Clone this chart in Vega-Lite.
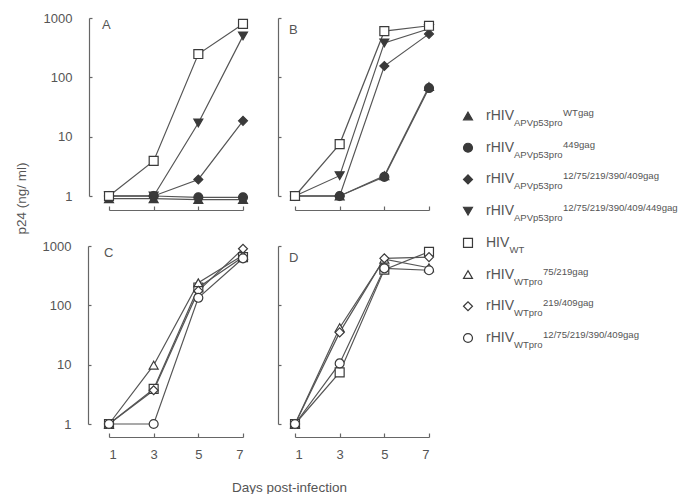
{
  "$schema": "https://vega.github.io/schema/vega-lite/v6.json",
  "background": "white",
  "padding": {"left": 14, "top": 12, "right": 0, "bottom": 0},
  "config": {
    "font": "Liberation Sans",
    "view": {"stroke": null},
    "axis": {"grid": false, "domain": true, "ticks": true, "domainColor": "#666", "tickColor": "#666", "domainOpacity": 1, "tickOpacity": 1, "labelColor": "#555", "labelFontSize": 13, "titleColor": "#555", "titleFontWeight": "normal", "titleFontSize": 13.5, "domainWidth": 1.2, "tickWidth": 1.2}
  },
  "datasets": {
    "curves": [
      {"panel": "A", "series": "apvwt", "day": 1, "p24": 0.9}, {"panel": "A", "series": "apvwt", "day": 3, "p24": 0.9}, {"panel": "A", "series": "apvwt", "day": 5, "p24": 0.87}, {"panel": "A", "series": "apvwt", "day": 7, "p24": 0.87},
      {"panel": "A", "series": "apv449", "day": 1, "p24": 1}, {"panel": "A", "series": "apv449", "day": 3, "p24": 1}, {"panel": "A", "series": "apv449", "day": 5, "p24": 0.95}, {"panel": "A", "series": "apv449", "day": 7, "p24": 0.95},
      {"panel": "A", "series": "apv5", "day": 1, "p24": 1}, {"panel": "A", "series": "apv5", "day": 3, "p24": 1}, {"panel": "A", "series": "apv5", "day": 5, "p24": 1.9}, {"panel": "A", "series": "apv5", "day": 7, "p24": 18.5},
      {"panel": "A", "series": "apv6", "day": 1, "p24": 1}, {"panel": "A", "series": "apv6", "day": 3, "p24": 1}, {"panel": "A", "series": "apv6", "day": 5, "p24": 17}, {"panel": "A", "series": "apv6", "day": 7, "p24": 500},
      {"panel": "A", "series": "wt", "day": 1, "p24": 1}, {"panel": "A", "series": "wt", "day": 3, "p24": 3.9}, {"panel": "A", "series": "wt", "day": 5, "p24": 247}, {"panel": "A", "series": "wt", "day": 7, "p24": 795},
      {"panel": "B", "series": "apvwt", "day": 1, "p24": 1}, {"panel": "B", "series": "apvwt", "day": 3, "p24": 1}, {"panel": "B", "series": "apvwt", "day": 5, "p24": 2.2}, {"panel": "B", "series": "apvwt", "day": 7, "p24": 70},
      {"panel": "B", "series": "apv449", "day": 1, "p24": 1}, {"panel": "B", "series": "apv449", "day": 3, "p24": 1}, {"panel": "B", "series": "apv449", "day": 5, "p24": 2.1}, {"panel": "B", "series": "apv449", "day": 7, "p24": 66},
      {"panel": "B", "series": "apv5", "day": 1, "p24": 1}, {"panel": "B", "series": "apv5", "day": 3, "p24": 1}, {"panel": "B", "series": "apv5", "day": 5, "p24": 155}, {"panel": "B", "series": "apv5", "day": 7, "p24": 540},
      {"panel": "B", "series": "apv6", "day": 1, "p24": 1}, {"panel": "B", "series": "apv6", "day": 3, "p24": 2.2}, {"panel": "B", "series": "apv6", "day": 5, "p24": 380}, {"panel": "B", "series": "apv6", "day": 7, "p24": 660},
      {"panel": "B", "series": "wt", "day": 1, "p24": 1}, {"panel": "B", "series": "wt", "day": 3, "p24": 7.5}, {"panel": "B", "series": "wt", "day": 5, "p24": 600}, {"panel": "B", "series": "wt", "day": 7, "p24": 740},
      {"panel": "C", "series": "wt", "day": 1, "p24": 1}, {"panel": "C", "series": "wt", "day": 3, "p24": 3.9}, {"panel": "C", "series": "wt", "day": 5, "p24": 200}, {"panel": "C", "series": "wt", "day": 7, "p24": 650},
      {"panel": "C", "series": "wt75", "day": 1, "p24": 1}, {"panel": "C", "series": "wt75", "day": 3, "p24": 9.8}, {"panel": "C", "series": "wt75", "day": 5, "p24": 240}, {"panel": "C", "series": "wt75", "day": 7, "p24": 700},
      {"panel": "C", "series": "wt219", "day": 1, "p24": 1}, {"panel": "C", "series": "wt219", "day": 3, "p24": 3.7}, {"panel": "C", "series": "wt219", "day": 5, "p24": 175}, {"panel": "C", "series": "wt219", "day": 7, "p24": 900},
      {"panel": "C", "series": "wt5", "day": 1, "p24": 1}, {"panel": "C", "series": "wt5", "day": 3, "p24": 1}, {"panel": "C", "series": "wt5", "day": 5, "p24": 134}, {"panel": "C", "series": "wt5", "day": 7, "p24": 620},
      {"panel": "D", "series": "wt", "day": 1, "p24": 1}, {"panel": "D", "series": "wt", "day": 3, "p24": 7.4}, {"panel": "D", "series": "wt", "day": 5, "p24": 400}, {"panel": "D", "series": "wt", "day": 7, "p24": 800},
      {"panel": "D", "series": "wt75", "day": 1, "p24": 1}, {"panel": "D", "series": "wt75", "day": 3, "p24": 42}, {"panel": "D", "series": "wt75", "day": 5, "p24": 600}, {"panel": "D", "series": "wt75", "day": 7, "p24": 430},
      {"panel": "D", "series": "wt219", "day": 1, "p24": 1}, {"panel": "D", "series": "wt219", "day": 3, "p24": 35}, {"panel": "D", "series": "wt219", "day": 5, "p24": 620}, {"panel": "D", "series": "wt219", "day": 7, "p24": 650},
      {"panel": "D", "series": "wt5", "day": 1, "p24": 1}, {"panel": "D", "series": "wt5", "day": 3, "p24": 10.5}, {"panel": "D", "series": "wt5", "day": 5, "p24": 420}, {"panel": "D", "series": "wt5", "day": 7, "p24": 390}
    ],
    "legend": [
      {"series": "apvwt", "main": "rHIV", "sub": "APVp53pro", "sup": "WTgag"},
      {"series": "apv449", "main": "rHIV", "sub": "APVp53pro", "sup": "449gag"},
      {"series": "apv5", "main": "rHIV", "sub": "APVp53pro", "sup": "12/75/219/390/409gag"},
      {"series": "apv6", "main": "rHIV", "sub": "APVp53pro", "sup": "12/75/219/390/409/449gag"},
      {"series": "wt", "main": "HIV", "sub": "WT", "sup": ""},
      {"series": "wt75", "main": "rHIV", "sub": "WTpro", "sup": "75/219gag"},
      {"series": "wt219", "main": "rHIV", "sub": "WTpro", "sup": "219/409gag"},
      {"series": "wt5", "main": "rHIV", "sub": "WTpro", "sup": "12/75/219/390/409gag"}
    ]
  },
  "hconcat": [
    {
      "columns": 2,
      "spacing": {"row": 50, "column": 52},
      "bounds": "flush",
      "concat": [
        {
          "data": {"name": "curves"},
          "width": 134, "height": 178,
          "title": {"text": "A", "anchor": "start", "frame": "group", "dx": -7, "dy": 20, "offset": 0, "baseline": "top", "fontSize": 13, "fontWeight": "normal", "color": "#555"},
          "transform": [{"filter": "datum.panel === 'A'"}],
          "encoding": {
            "x": {"field": "day", "type": "quantitative", "scale": {"domain": [1, 7], "nice": false, "zero": false}, "axis": {"domain": true, "ticks": true, "values": [1, 3, 5, 7], "offset": 14, "tickSize": -4, "labels": false, "title": null}},
            "y": {"field": "p24", "type": "quantitative", "scale": {"type": "log", "domain": [1, 1000], "nice": false}, "axis": {"domain": true, "ticks": true, "values": [1, 10, 100, 1000], "format": "d", "offset": 20, "tickSize": -3, "labelPadding": 20, "title": "p24 (ng/ ml)", "titleY": 180, "titleX": -68, "titleBaseline": "middle", "titleAlign": "center", "titleAngle": 270}}
          },
          "layer": [
            {"mark": {"type": "line", "color": "#555", "strokeWidth": 1.2}, "encoding": {"detail": {"field": "series"}}},
            {"mark": {"type": "point", "filled": true, "size": 80, "stroke": "#3a3a3a", "strokeWidth": 1.2, "opacity": 1},
             "encoding": {
               "shape": {"field": "series", "scale": {"domain": ["apvwt", "apv449", "apv5", "apv6", "wt", "wt75", "wt219", "wt5"], "range": ["triangle-up", "circle", "diamond", "triangle-down", "square", "triangle-up", "diamond", "circle"]}, "legend": null},
               "fill": {"field": "series", "scale": {"domain": ["apvwt", "apv449", "apv5", "apv6", "wt", "wt75", "wt219", "wt5"], "range": ["#3a3a3a", "#3a3a3a", "#3a3a3a", "#3a3a3a", "white", "white", "white", "white"]}, "legend": null}
             }}
          ]
        },
        {
          "data": {"name": "curves"},
          "width": 134, "height": 178,
          "title": {"text": "B", "anchor": "start", "frame": "group", "dx": -6, "dy": 20, "offset": 0, "baseline": "top", "fontSize": 13, "fontWeight": "normal", "color": "#555"},
          "transform": [{"filter": "datum.panel === 'B'"}],
          "encoding": {
            "x": {"field": "day", "type": "quantitative", "scale": {"domain": [1, 7], "nice": false, "zero": false}, "axis": {"domain": true, "ticks": true, "values": [1, 3, 5, 7], "offset": 14, "tickSize": -4, "labels": false, "title": null}},
            "y": {"field": "p24", "type": "quantitative", "scale": {"type": "log", "domain": [1, 1000], "nice": false}, "axis": {"domain": true, "ticks": true, "values": [1, 10, 100, 1000], "offset": 17, "tickSize": -3, "labels": false, "title": null}}
          },
          "layer": [
            {"mark": {"type": "line", "color": "#555", "strokeWidth": 1.2}, "encoding": {"detail": {"field": "series"}}},
            {"mark": {"type": "point", "filled": true, "size": 80, "stroke": "#3a3a3a", "strokeWidth": 1.2, "opacity": 1},
             "encoding": {
               "shape": {"field": "series", "scale": {"domain": ["apvwt", "apv449", "apv5", "apv6", "wt", "wt75", "wt219", "wt5"], "range": ["triangle-up", "circle", "diamond", "triangle-down", "square", "triangle-up", "diamond", "circle"]}, "legend": null},
               "fill": {"field": "series", "scale": {"domain": ["apvwt", "apv449", "apv5", "apv6", "wt", "wt75", "wt219", "wt5"], "range": ["#3a3a3a", "#3a3a3a", "#3a3a3a", "#3a3a3a", "white", "white", "white", "white"]}, "legend": null}
             }}
          ]
        },
        {
          "data": {"name": "curves"},
          "width": 134, "height": 178,
          "title": {"text": "C", "anchor": "start", "frame": "group", "dx": -5, "dy": 20, "offset": 0, "baseline": "top", "fontSize": 13, "fontWeight": "normal", "color": "#555"},
          "transform": [{"filter": "datum.panel === 'C'"}],
          "encoding": {
            "x": {"field": "day", "type": "quantitative", "scale": {"domain": [1, 7], "nice": false, "zero": false}, "axis": {"domain": true, "ticks": true, "values": [1, 3, 5, 7], "offset": 13, "tickSize": -4, "labelPadding": 15, "title": null}},
            "y": {"field": "p24", "type": "quantitative", "scale": {"type": "log", "domain": [1, 1000], "nice": false}, "axis": {"domain": true, "ticks": true, "values": [1, 10, 100, 1000], "format": "d", "offset": 21, "tickSize": -3, "labelPadding": 20, "title": null}}
          },
          "layer": [
            {"mark": {"type": "line", "color": "#555", "strokeWidth": 1.2}, "encoding": {"detail": {"field": "series"}}},
            {"mark": {"type": "point", "filled": true, "size": 80, "stroke": "#3a3a3a", "strokeWidth": 1.2, "opacity": 1},
             "encoding": {
               "shape": {"field": "series", "scale": {"domain": ["apvwt", "apv449", "apv5", "apv6", "wt", "wt75", "wt219", "wt5"], "range": ["triangle-up", "circle", "diamond", "triangle-down", "square", "triangle-up", "diamond", "circle"]}, "legend": null},
               "fill": {"field": "series", "scale": {"domain": ["apvwt", "apv449", "apv5", "apv6", "wt", "wt75", "wt219", "wt5"], "range": ["#3a3a3a", "#3a3a3a", "#3a3a3a", "#3a3a3a", "white", "white", "white", "white"]}, "legend": null}
             }}
          ]
        },
        {
          "data": {"name": "curves"},
          "width": 134, "height": 178,
          "title": {"text": "D", "anchor": "start", "frame": "group", "dx": -6, "dy": 20, "offset": 0, "baseline": "top", "fontSize": 13, "fontWeight": "normal", "color": "#555"},
          "transform": [{"filter": "datum.panel === 'D'"}],
          "encoding": {
            "x": {"field": "day", "type": "quantitative", "scale": {"domain": [1, 7], "nice": false, "zero": false}, "axis": {"domain": true, "ticks": true, "values": [1, 3, 5, 7], "offset": 13, "tickSize": -4, "labelPadding": 15, "title": "Days post-infection", "titleX": -6, "titleY": 50, "titleBaseline": "middle", "titleAlign": "center"}},
            "y": {"field": "p24", "type": "quantitative", "scale": {"type": "log", "domain": [1, 1000], "nice": false}, "axis": {"domain": true, "ticks": true, "values": [1, 10, 100, 1000], "offset": 17, "tickSize": -3, "labels": false, "title": null}}
          },
          "layer": [
            {"mark": {"type": "line", "color": "#555", "strokeWidth": 1.2}, "encoding": {"detail": {"field": "series"}}},
            {"mark": {"type": "point", "filled": true, "size": 80, "stroke": "#3a3a3a", "strokeWidth": 1.2, "opacity": 1},
             "encoding": {
               "shape": {"field": "series", "scale": {"domain": ["apvwt", "apv449", "apv5", "apv6", "wt", "wt75", "wt219", "wt5"], "range": ["triangle-up", "circle", "diamond", "triangle-down", "square", "triangle-up", "diamond", "circle"]}, "legend": null},
               "fill": {"field": "series", "scale": {"domain": ["apvwt", "apv449", "apv5", "apv6", "wt", "wt75", "wt219", "wt5"], "range": ["#3a3a3a", "#3a3a3a", "#3a3a3a", "#3a3a3a", "white", "white", "white", "white"]}, "legend": null}
             }}
          ]
        }
      ]
    },
    {
      "data": {"name": "legend"},
      "width": 200, "height": 412,
      "encoding": {
        "x": {"datum": 0, "type": "quantitative", "scale": {"domain": [0, 1]}, "axis": null},
        "y": {"field": "series", "type": "nominal", "scale": {"type": "point", "padding": 0, "range": [98, 320], "domain": ["apvwt", "apv449", "apv5", "apv6", "wt", "wt75", "wt219", "wt5"]}, "axis": null}
      },
      "layer": [
        {"mark": {"type": "point", "filled": true, "size": 80, "stroke": "#3a3a3a", "strokeWidth": 1.2, "opacity": 1},
         "encoding": {
           "shape": {"field": "series", "scale": {"domain": ["apvwt", "apv449", "apv5", "apv6", "wt", "wt75", "wt219", "wt5"], "range": ["triangle-up", "circle", "diamond", "triangle-down", "square", "triangle-up", "diamond", "circle"]}, "legend": null},
           "fill": {"field": "series", "scale": {"domain": ["apvwt", "apv449", "apv5", "apv6", "wt", "wt75", "wt219", "wt5"], "range": ["#3a3a3a", "#3a3a3a", "#3a3a3a", "#3a3a3a", "white", "white", "white", "white"]}, "legend": null}
         }},
        {"mark": {"type": "text", "align": "left", "baseline": "middle", "dx": 18, "fontSize": 14, "color": "#555"}, "encoding": {"text": {"field": "main"}}},
        {"transform": [{"filter": "datum.main === 'rHIV'"}], "mark": {"type": "text", "align": "left", "baseline": "middle", "dx": 46, "dy": 7, "fontSize": 9.5, "color": "#555"}, "encoding": {"text": {"field": "sub"}}},
        {"transform": [{"filter": "datum.main === 'HIV'"}], "mark": {"type": "text", "align": "left", "baseline": "middle", "dx": 41.5, "dy": 7, "fontSize": 9.5, "color": "#555"}, "encoding": {"text": {"field": "sub"}}},
        {"transform": [{"filter": "datum.sub === 'APVp53pro'"}], "mark": {"type": "text", "align": "left", "baseline": "middle", "dx": 95, "dy": -3, "fontSize": 9.6, "color": "#555"}, "encoding": {"text": {"field": "sup"}}},
        {"transform": [{"filter": "datum.sub === 'WTpro'"}], "mark": {"type": "text", "align": "left", "baseline": "middle", "dx": 75, "dy": -3, "fontSize": 9.6, "color": "#555"}, "encoding": {"text": {"field": "sup"}}}
      ]
    }
  ],
  "spacing": 25
}
